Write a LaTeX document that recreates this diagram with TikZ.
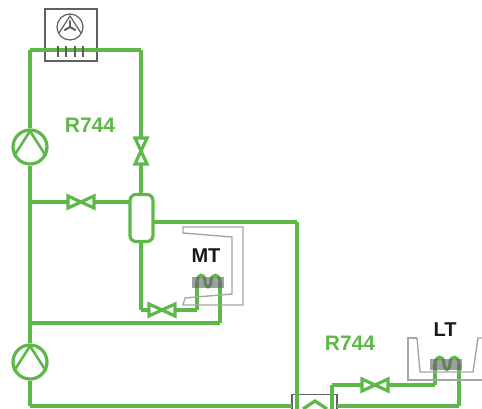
\documentclass[tikz,border=0pt]{standalone}
\usepackage{fontspec}
\setmainfont{Liberation Sans}
\usetikzlibrary{calc}
\definecolor{pipe}{HTML}{5DB849}
\definecolor{frame}{HTML}{A6A6A6}
\definecolor{unit}{HTML}{606064}
\tikzset{
  wire/.style={draw=pipe,line width=3.2pt},
  shell/.style={draw=frame,line width=1.4pt},
  unitbox/.style={draw=unit,line width=1.3pt,inner sep=0pt,fill=white},
  comp/.style={circle,draw=pipe,line width=3.2pt,minimum size=34pt,inner sep=0pt},
  valve/.style={minimum width=27pt,minimum height=12pt,inner sep=0pt},
  recv/.style={rectangle,rounded corners=6pt,draw=pipe,line width=3.2pt,minimum width=23pt,minimum height=47pt,inner sep=0pt},
  coilbar/.style={fill=unit,fill opacity=.6,draw=none,minimum width=32pt,minimum height=11pt,inner sep=0pt},
  lab/.style={font=\bfseries\fontsize{21}{21}\selectfont,text=pipe,inner sep=0pt},
  cab/.style={font=\bfseries\fontsize{20}{20}\selectfont,text=black!90,inner sep=0pt}
}
\begin{document}
\begin{tikzpicture}[x=1pt,y=-1pt]
  \useasboundingbox (0,0) rectangle (482,409);
  % units
  \node[unitbox,minimum width=52pt,minimum height=52pt] (cond) at (71,35) {};
  \node[unitbox,minimum width=45pt,minimum height=30pt,anchor=north] (hx) at (314.5,394) {};
  \node[comp] (c1) at (30,147) {};
  \node[comp] (c2) at (30,362) {};
  \node[valve,rotate=90] (v1) at (141,151) {};
  \node[valve] (v2) at (81,202) {};
  \node[valve] (v3) at (162,310) {};
  \node[valve] (v4) at (375,385) {};
  \node[recv] (rc) at (141.5,218) {};
  \node[lab] (r1) at (90,125) {R744};
  \node[lab] (r2) at (350,343) {R744};
  \node[cab] (tm) at (206,256) {MT};
  \node[cab] (tl) at (445,330) {LT};
  % junctions
  \coordinate (a) at (30,50);
  \coordinate (b) at (141,50);
  \coordinate (d) at (30,202);
  \coordinate (dr) at (130,202);
  \coordinate (rb) at (141,241);
  \coordinate (rt) at (141,195);
  \coordinate (e) at (30,323);
  \coordinate (f) at (141,310);
  \coordinate (g) at (297,222);
  \coordinate (h) at (297,409);
  \coordinate (i) at (197,310);
  \coordinate (j) at (197,282);
  \coordinate (k) at (220,282);
  \coordinate (l) at (220,323);
  \coordinate (m) at (30,406);
  \coordinate (n) at (292,406);
  \coordinate (o) at (337,406);
  \coordinate (p) at (459,406);
  \coordinate (q) at (459,364);
  \coordinate (s) at (435,364);
  \coordinate (t) at (435,385);
  \coordinate (u) at (332,385);
  \coordinate (w) at (332,409);
  \coordinate (rr) at (153,222);
  \foreach \from/\to in {c1/a,a/b,b/v1,v1/rt,d/v2,v2/dr,rb/f,f/v3,v3/i,i/j,
      c1/c2,e/l,l/k,rr/g,g/h,c2/m,m/n,o/p,p/q,s/t,t/v4,v4/u,u/w}
    \draw[wire] (\from) -- (\to);
  % valves
  \foreach \v/\ang in {v1/90,v2/0,v3/0,v4/0}
    \draw[wire,shift={(\v)},rotate=\ang] (-13,-6) -- (13,6) -- (13,-6) -- (-13,6) -- cycle;
  % compressors
  \foreach \c in {c1,c2}
    \draw[wire,line width=2.6pt] ($(\c)+(-16,9)$) -- ($(\c)+(0,-16)$) -- ($(\c)+(16,9)$);
  % condenser
  \draw[unit,line width=1.2pt] (70,27) circle (13pt) (59,33) -- (70,16) -- (81,33);
  \foreach \ang in {90,210,330}
    \draw[unit,line width=2pt,line cap=round] (70,27) -- ++(\ang:6pt);
  \foreach \x in {58,66,75,83}
    \draw[unit,line width=1.2pt] (\x,46) -- (\x,57);
  % cabinets
  \draw[shell] (183,233) -- (183,227) -- (243,227) -- (243,305) -- (183,305) -- (185,298) -- (232,294) -- (232,237) -- cycle;
  \draw[shell] (417,338) -- (408,338) -- (408,380) -- (482,380);
  \draw[shell] (417,338) -- (420,372) -- (473,372) -- (478,338) -- (482,338);
  % coils
  \draw[wire,line width=3pt] (j) .. controls (197,273) and (205,273) .. (205,281) .. controls (205,289) and (211,289) .. (211,281) .. controls (211,273) and (220,273) .. (k);
  \draw[wire,line width=3pt] (s) .. controls (435,355) and (444,355) .. (444,363) .. controls (444,372) and (450,372) .. (450,363) .. controls (450,355) and (459,355) .. (q);
  \node[coilbar] (mt) at (208,282.5) {};
  \node[coilbar] (lt) at (446,364) {};
  % exchanger
  \draw[wire] (303,409) -- (315,401) -- (327,409);
\end{tikzpicture}
\end{document}
